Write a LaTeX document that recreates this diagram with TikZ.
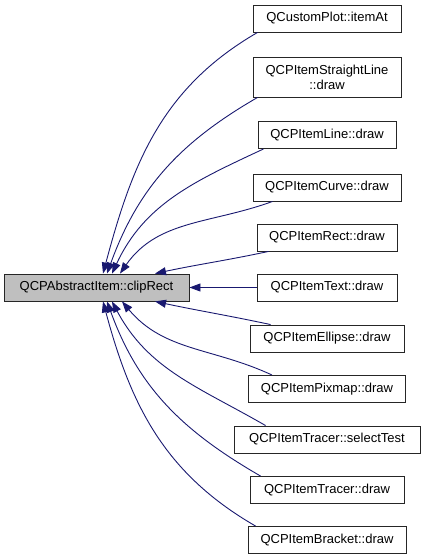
\documentclass[tikz,border=0pt]{standalone}
\usepackage{fontspec}
\setmainfont{Liberation Sans}
\usepackage{tikz}
\usetikzlibrary{arrows.meta}
\definecolor{callBlue}{RGB}{25,25,112}
\definecolor{mainGray}{RGB}{191,191,191}

\begin{document}
\begin{tikzpicture}[x=1pt,y=1pt,
    fn/.style={draw=black!85, line width=0.9pt, minimum height=27pt, inner xsep=10pt, inner ysep=0pt,
        font=\fontsize{13}{15}\selectfont, align=center},
    edge/.style={callBlue, line width=0.9pt, -{Triangle[length=11pt,width=8pt]}}]
    \useasboundingbox (0,0) rectangle (424,560);

    % the function and its callers
    \node[fn, fill=mainGray, minimum width=185pt] (clip) at (96.5,272.5) {QCPAbstractItem::clipRect};
    \node[fn, minimum width=148pt] (itemAt) at (327,541.5) {QCustomPlot::itemAt};
    \node[fn, minimum width=148pt, minimum height=40pt] (sline) at (327,483) {QCPItemStraightLine\\::draw};
    \node[fn, minimum width=138pt] (line) at (327,425) {QCPItemLine::draw};
    \node[fn, minimum width=148pt] (curve) at (327,372.5) {QCPItemCurve::draw};
    \node[fn, minimum width=140pt] (rect) at (327,322.5) {QCPItemRect::draw};
    \node[fn, minimum width=140pt] (text) at (327,272.5) {QCPItemText::draw};
    \node[fn, minimum width=154pt] (ellipse) at (327,221.5) {QCPItemEllipse::draw};
    \node[fn, minimum width=157pt] (pixmap) at (327,171) {QCPItemPixmap::draw};
    \node[fn, minimum width=186pt] (select) at (327,120.5) {QCPItemTracer::selectTest};
    \node[fn, minimum width=154pt] (tracer) at (327,70) {QCPItemTracer::draw};
    \node[fn, minimum width=158pt] (bracket) at (327,20) {QCPItemBracket::draw};

    % calls
    \draw[edge] ([xshift=5pt]itemAt.south west) to[out=210, in=75] ([xshift=6.5pt]clip.north);
    \draw[edge] ([xshift=5pt]sline.south west) to[out=210, in=70] ([xshift=10.5pt]clip.north);
    \draw[edge] ([xshift=6pt]line.south west) to[out=205, in=65] ([xshift=15.5pt]clip.north);
    \draw[edge] ([xshift=20pt]curve.south west) to[out=200, in=55] ([xshift=23.5pt]clip.north);
    \draw[edge] ([xshift=12pt]rect.south west) to[out=192, in=12] ([xshift=58.5pt]clip.north);
    \draw[edge] (text.west) -- (clip.east);
    \draw[edge] ([xshift=21pt]ellipse.north west) to[out=168, in=-12] ([xshift=58.5pt]clip.south);
    \draw[edge] ([xshift=24pt]pixmap.north west) to[out=155, in=-50] ([xshift=25.5pt]clip.south);
    \draw[edge] ([xshift=32pt]select.north west) to[out=150, in=-62] ([xshift=15.5pt]clip.south);
    \draw[edge] ([xshift=11pt]tracer.north west) to[out=150, in=-70] ([xshift=10.5pt]clip.south);
    \draw[edge] ([xshift=8pt]bracket.north west) to[out=150, in=-75] ([xshift=6.5pt]clip.south);
\end{tikzpicture}
\end{document}
